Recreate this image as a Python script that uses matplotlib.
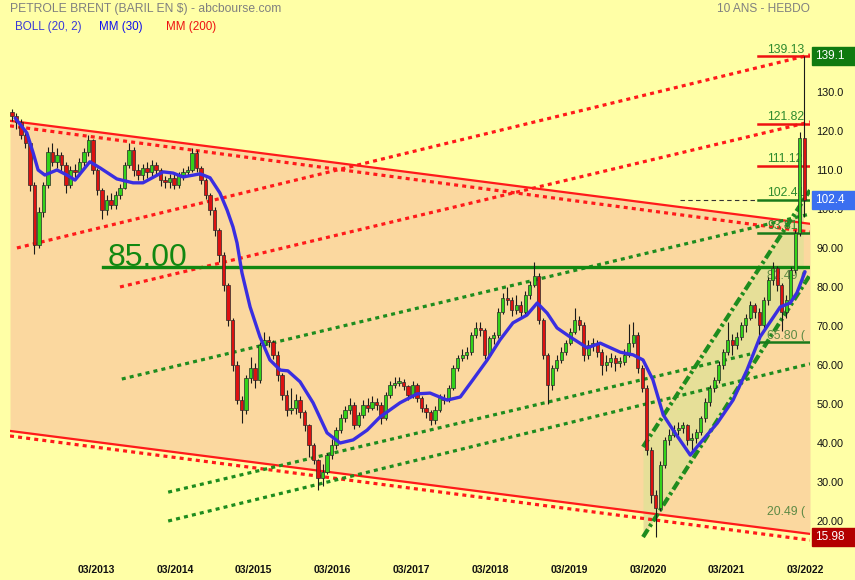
import matplotlib.pyplot as plt
import numpy as np
from matplotlib.patches import Rectangle
from matplotlib.transforms import blended_transform_factory

plt.rcParams['font.family'] = ['Liberation Sans', 'DejaVu Sans']

# Brent, candles every 3 weeks from 02/2012 to 03/2022 (x = candle index)
first_open = 124.9
closes = [
    123.8, 122.3, 119.0, 116.9, 106.2, 90.8, 99.2, 106.2, 114.6, 112.1,
    113.9, 111.3, 106.2, 110.0, 109.5, 112.1, 114.6, 117.7, 110.0, 104.9,
    99.7, 102.3, 101.0, 103.6, 105.4, 111.3, 115.1, 110.0, 108.7, 110.5,
    109.5, 111.3, 110.0, 107.4, 106.9, 107.9, 106.2, 108.7, 109.5, 110.0,
    114.4, 110.5, 107.4, 103.6, 99.7, 94.6, 88.2, 80.5, 71.5, 60.0,
    51.0, 48.5, 56.7, 59.2, 56.2, 65.1, 66.4, 65.9, 62.6, 57.4,
    52.3, 48.5, 49.0, 51.0, 47.9, 44.6, 39.5, 35.6, 31.0, 32.6,
    36.9, 39.5, 43.3, 46.4, 48.5, 49.7, 44.6, 47.2, 49.7, 49.0,
    50.5, 49.7, 46.4, 52.3, 54.9, 55.4, 55.7, 54.6, 52.3, 54.9,
    51.5, 49.0, 47.9, 45.9, 48.5, 51.5, 51.0, 54.1, 59.2, 61.8,
    62.6, 63.3, 67.7, 69.5, 69.0, 62.6, 66.9, 67.7, 73.6, 77.2,
    76.7, 74.1, 75.4, 73.6, 77.9, 80.5, 82.8, 71.5, 62.6, 54.9,
    59.2, 61.3, 63.3, 65.6, 68.5, 71.5, 70.3, 62.6, 65.1, 65.6,
    63.3, 60.0, 60.8, 61.8, 60.5, 60.8, 62.6, 65.6, 67.7, 59.2,
    54.1, 38.2, 26.7, 23.3, 34.4, 40.8, 42.1, 43.3, 43.8, 44.6,
    40.8, 41.3, 42.8, 46.4, 50.5, 54.1, 56.2, 60.0, 63.3, 66.4,
    65.1, 67.2, 70.3, 72.1, 75.4, 73.6, 70.3, 76.7, 81.8, 84.9,
    80.5, 73.6, 76.7, 84.4, 93.8, 118.2, 102.4]
highs = [
    125.5, 124.5, 123.0, 120.0, 117.5, 107.0, 100.5, 107.0, 116.0, 117.0,
    115.5, 114.5, 112.0, 111.0, 111.5, 113.0, 115.5, 119.0, 118.0, 110.5,
    105.5, 103.5, 104.0, 104.5, 106.5, 112.0, 117.0, 116.0, 111.5, 111.5,
    112.0, 112.5, 112.0, 110.5, 108.5, 109.0, 109.0, 109.5, 110.5, 111.0,
    115.5, 115.0, 111.0, 108.0, 104.0, 100.5, 95.0, 89.0, 81.0, 72.0,
    61.0, 52.0, 57.5, 62.0, 60.5, 66.0, 68.5, 67.5, 66.5, 63.5,
    58.0, 53.5, 54.0, 52.5, 52.0, 48.5, 45.0, 40.0, 36.0, 34.5,
    37.5, 41.0, 44.0, 47.5, 49.5, 51.5, 50.5, 48.0, 51.0, 51.5,
    52.0, 51.5, 50.5, 53.0, 56.0, 57.0, 57.0, 56.5, 55.0, 56.0,
    55.5, 52.0, 50.0, 48.5, 49.5, 52.5, 52.5, 55.0, 60.0, 62.5,
    64.0, 64.5, 68.5, 71.0, 71.0, 69.5, 67.5, 68.5, 74.5, 78.5,
    80.0, 77.5, 78.0, 76.5, 79.0, 81.5, 86.3, 83.5, 72.0, 63.0,
    60.0, 62.5, 64.5, 66.5, 69.5, 74.5, 72.5, 71.0, 66.5, 67.0,
    66.5, 64.0, 62.5, 63.0, 62.5, 62.0, 64.0, 70.5, 71.0, 68.5,
    60.0, 55.0, 39.0, 28.0, 35.5, 41.5, 43.5, 44.5, 45.5, 45.5,
    45.0, 42.5, 43.5, 47.0, 51.5, 55.0, 57.0, 61.0, 64.0, 71.0,
    68.0, 68.5, 71.0, 73.0, 76.5, 76.0, 74.5, 77.5, 82.5, 86.3,
    85.5, 81.0, 78.0, 85.0, 94.5, 119.8, 139.13]
lows = [
    122.5, 120.5, 118.0, 115.5, 104.5, 88.5, 90.0, 98.0, 105.5, 111.0,
    110.5, 109.5, 104.0, 105.5, 108.0, 108.5, 111.0, 113.5, 109.0, 103.5,
    97.5, 98.5, 100.0, 100.0, 102.5, 105.0, 110.5, 108.5, 107.5, 107.5,
    108.0, 108.5, 108.5, 106.0, 105.5, 105.5, 105.0, 105.5, 107.5, 108.5,
    109.5, 109.5, 106.5, 102.5, 98.5, 93.0, 86.5, 79.0, 70.0, 58.5,
    50.0, 45.2, 47.5, 55.5, 54.0, 55.5, 64.0, 64.5, 61.5, 56.0,
    51.0, 47.0, 47.5, 47.5, 46.5, 43.0, 36.5, 34.5, 27.9, 29.0,
    32.0, 36.0, 38.5, 42.5, 45.5, 47.5, 43.5, 44.0, 46.5, 48.0,
    48.5, 48.5, 45.0, 46.0, 51.5, 54.0, 54.5, 53.5, 51.0, 51.5,
    50.5, 48.0, 46.5, 44.5, 45.0, 48.0, 50.0, 50.5, 53.5, 58.5,
    61.0, 61.5, 62.5, 67.0, 67.5, 61.5, 62.0, 65.5, 67.0, 73.0,
    75.5, 72.5, 73.0, 72.0, 73.0, 77.0, 80.0, 70.5, 61.5, 50.0,
    53.5, 58.5, 60.5, 62.5, 65.0, 68.0, 69.0, 61.0, 61.5, 63.5,
    62.0, 57.5, 58.5, 59.5, 58.5, 59.5, 60.0, 62.0, 64.5, 58.0,
    53.0, 37.0, 24.5, 15.98, 22.5, 33.5, 39.5, 41.5, 42.0, 42.5,
    39.5, 37.5, 40.0, 42.0, 45.5, 49.5, 53.0, 55.5, 59.0, 62.5,
    62.5, 64.0, 66.5, 68.5, 71.5, 72.0, 65.5, 69.5, 75.5, 80.5,
    79.0, 68.8, 72.0, 76.0, 83.5, 93.0, 98.0]

# MM(30)
ma_idx = [0.7, 3.3, 4.7, 5.8, 7.3, 10.0, 12.2, 14.0, 17.3, 19.6, 23.3, 26.9,
          29.1, 33.6, 35.8, 38.0, 41.8, 44.0, 46.2, 47.8, 49.1, 50.0, 51.1,
          52.9, 55.1, 57.3, 59.6, 61.3, 64.0, 66.9, 70.0, 72.9, 75.8, 78.9,
          81.8, 86.2, 90.0, 92.9, 96.7, 99.6, 102.4, 105.6, 108.4, 111.3,
          114.4, 116.7, 118.9, 121.1, 124.0, 127.8, 130.7, 135.1, 138.0,
          140.2, 142.4, 144.7, 146.9, 150.7, 152.9, 156.7, 160.2, 163.3,
          166.2, 170.7, 172.9, 174.4, 176.2]
ma_val = [123.3, 119.5, 114.4, 110.0, 108.7, 110.0, 108.7, 107.4, 112.1,
          110.5, 107.7, 106.7, 106.7, 109.5, 109.2, 108.2, 109.0, 108.0,
          104.1, 99.7, 95.4, 91.3, 83.6, 74.9, 67.2, 61.3, 58.7, 58.5, 55.7,
          50.3, 42.6, 40.0, 40.8, 43.3, 46.7, 50.3, 52.6, 52.8, 51.0, 51.8,
          56.2, 61.3, 66.4, 70.8, 72.8, 75.9, 73.3, 69.5, 67.2, 64.4, 65.6,
          63.3, 62.6, 61.3, 56.2, 47.2, 43.3, 36.9, 40.0, 45.1, 51.0, 58.7,
          67.2, 74.9, 75.9, 78.5, 83.9]

# trend lines: [x0, x1], [y0, y1]
chan_x = [-0.44, 177.3]
chan_top = [122.6, 96.2]
chan_top_dot = [121.3, 94.1]
chan_bot = [43.1, 16.7]
chan_bot_dot = [41.8, 15.1]
red_dot_a = ([1.1, 177.3], [90.0, 139.5])
red_dot_b = ([24.0, 177.3], [80.0, 122.3])
green_dot_1 = ([24.4, 177.3], [56.4, 98.7])
green_dot_2 = ([34.7, 164.0], [27.4, 62.8])
green_dot_3 = ([34.7, 177.3], [20.0, 60.3])
up_chan_x = [140.2, 177.3]
up_chan_hi = [39.0, 104.8]
up_chan_lo = [15.9, 83.1]

support = 85.00
red_levels = [139.13, 121.82, 111.12]
green_levels = [102.41, 93.81, 65.80]
level_texts = [(139.13, '139.13'), (121.82, '121.82'), (111.12, '111.12'),
               (102.41, '102.41'), (93.81, '93.81'), (81.0, '82.49 ('),
               (65.80, '65.80 ('), (20.49, '20.49 (')]
last_price = 102.4
year_ticks = [18.7, 36.2, 53.7, 71.2, 88.7, 106.2, 123.8, 141.3, 158.8, 176.3]
year_labels = ['03/2013', '03/2014', '03/2015', '03/2016', '03/2017',
               '03/2018', '03/2019', '03/2020', '03/2021', '03/2022']
price_ticks = [20, 30, 40, 50, 60, 70, 80, 90, 100, 110, 120, 130, 140]

BG = '#ffffa6'
PEACH = '#fbd89f'
RED = '#ff1a1a'
GREEN = '#1e8c1e'

fig = plt.figure(figsize=(8.55, 5.8), dpi=100, facecolor=BG)
ax = fig.add_axes([10 / 855, 34 / 580, 800 / 855, 504 / 580], facecolor=BG)
ax.set_xlim(-0.44, 177.3)
ax.set_ylim(13.6, 142.8)
for s in ax.spines.values():
    s.set_visible(False)

# background channel
ax.fill_between(chan_x, chan_top, chan_bot, color=PEACH, lw=0, zorder=0.5)
xs = np.array([up_chan_x[0], 175.8])
ax.fill_between(xs, np.interp(xs, up_chan_x, up_chan_hi),
                np.interp(xs, up_chan_x, up_chan_lo),
                color='#e6df98', lw=0, zorder=0.6)

dot = (0, (1.25, 1.3))
ax.plot(chan_x, chan_top, color=RED, lw=1.6, zorder=1)
ax.plot(chan_x, chan_bot, color=RED, lw=1.6, zorder=1)
ax.plot(chan_x, chan_top_dot, color=RED, lw=2.3, ls=dot, zorder=1)
ax.plot(chan_x, chan_bot_dot, color=RED, lw=2.3, ls=dot, zorder=1)
for lx, ly in [red_dot_a, red_dot_b]:
    ax.plot(lx, ly, color=RED, lw=2.3, ls=dot, zorder=1)
for lx, ly in [green_dot_1, green_dot_2, green_dot_3]:
    ax.plot(lx, ly, color=GREEN, lw=2.3, ls=dot, zorder=1)
for yy in [up_chan_hi, up_chan_lo]:
    ax.plot(up_chan_x, yy, color=GREEN, lw=3, ls=(0, (2.2, 0.8, 0.7, 0.8)), zorder=1.2)

# horizontal levels
ax.plot([20.2, 177.3], [support, support], color='#118811', lw=2.4, zorder=1.5)
ax.text(21.3, support + 0.4, f'{support:.2f}', fontsize=23, color='#118811',
        va='baseline', zorder=1.5)
for lv in red_levels:
    ax.plot([165.8, 177.3], [lv, lv], color='#ee1111', lw=1.8, zorder=1.5)
for lv in green_levels:
    ax.plot([165.8, 177.3], [lv, lv], color='#1a7a1a', lw=1.8, zorder=1.5)
ax.plot([148.4, 165.8], [green_levels[0]] * 2, color='#333333', lw=0.8,
        ls=(0, (4, 3)), zorder=1.5)
for lv, txt in level_texts:
    col = '#2e8b2e' if lv > 90 else '#5d8a45'
    ax.text(167.8, lv + 0.2, txt, fontsize=8.8, color=col, va='bottom',
            clip_on=True, zorder=2)

# candles
x = np.arange(len(closes))
opens = np.array([first_open] + closes[:-1])
c = np.array(closes)
up = c >= opens
ax.vlines(x, lows, highs, color='#1a1a1a', lw=0.8, zorder=3)
ax.bar(x, np.maximum(np.abs(c - opens), 0.4), bottom=np.minimum(c, opens),
       width=0.7, color=np.where(up, '#33d21a', '#dd1111'),
       edgecolor='#2a2a2a', linewidth=0.5, zorder=3.1)

ax.plot(ma_idx, ma_val, color='#3a2ee0', lw=2.4, solid_capstyle='round',
        zorder=4)

# axes ticks
ax.set_xticks(year_ticks, year_labels, fontweight='bold', fontsize=7.5)
ax.tick_params(axis='x', length=0, pad=13.5, labelcolor='#111111')
ax.yaxis.tick_right()
ax.set_yticks(price_ticks, [f'{v:.1f}' if v >= 100 else f'{v:.2f}'
                            for v in price_ticks])
ax.tick_params(axis='y', length=0, pad=4.5, labelsize=7.8, labelcolor='#111111')

# value boxes on the right
tr = blended_transform_factory(fig.transFigure, ax.transData)
half = 2.3
for val, txt, col in [(139.13, '139.1', '#107a10'), (last_price, '102.4', '#3b6ff0'),
                      (15.98, '15.98', '#b30000')]:
    yc = max(val, 13.6 + half)
    ax.add_patch(Rectangle((812 / 855, yc - half), 43 / 855, 2 * half,
                           transform=tr, color=col, clip_on=False, zorder=5))
    ax.text(815 / 855, yc, txt, transform=tr, color='white', fontsize=8.5,
            va='center', ha='left', clip_on=False, zorder=6)

# header
fig.text(10 / 855, 1 - 3 / 580, 'PETROLE BRENT (BARIL EN $) - abcbourse.com',
         fontsize=8.7, color='#808080', va='top')
fig.text(717 / 855, 1 - 3 / 580, '10 ANS - HEBDO', fontsize=8.6,
         color='#808080', va='top')
fig.text(15 / 855, 1 - 21 / 580, 'BOLL (20, 2)', fontsize=8.4, color='#3a3ad8', va='top')
fig.text(99 / 855, 1 - 21 / 580, 'MM (30)', fontsize=8.4, color='#1010ee', va='top')
fig.text(166 / 855, 1 - 21 / 580, 'MM (200)', fontsize=8.4, color='#ee1010', va='top')

fig.savefig('out.png', dpi=100, facecolor=BG)
